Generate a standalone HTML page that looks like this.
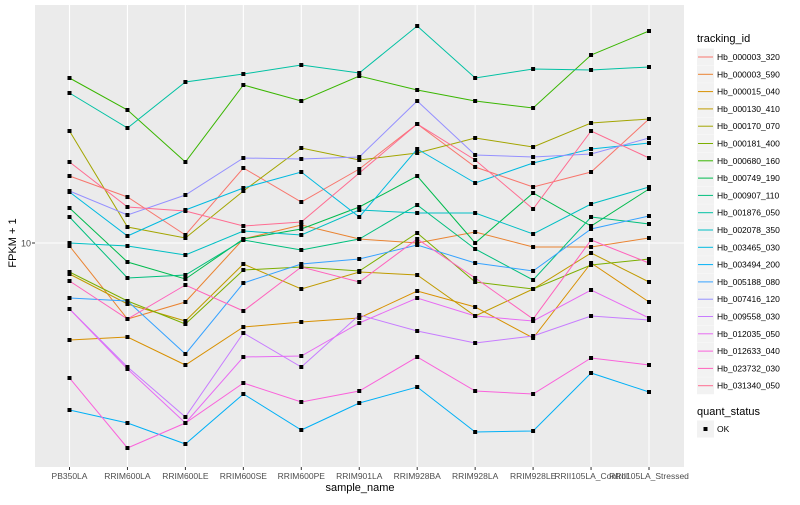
<!DOCTYPE html>
<html><head><meta charset="utf-8"><style>
body{margin:0;background:#fff;font-family:"Liberation Sans",sans-serif;}
svg text{font-family:"Liberation Sans",sans-serif;}
</style></head><body>
<svg id="chart" width="800" height="500" xmlns="http://www.w3.org/2000/svg">
<rect x="0" y="0" width="800" height="500" fill="#fff"/>
<rect x="35" y="5" width="649" height="462" fill="#ebebeb"/>
<g id="grid"></g><g id="series"></g><g id="xticks"></g><g id="legend"></g>
<text x="31" y="246.5" font-size="9" fill="#4d4d4d" text-anchor="end">10</text>
<line x1="32" y1="243" x2="35" y2="243" stroke="#333" stroke-width="1"/>
<text transform="translate(16,243) rotate(-90)" font-size="11" text-anchor="middle" fill="#000">FPKM + 1</text>
<text x="360" y="491" font-size="11" text-anchor="middle" fill="#000">sample_name</text>
</svg>
<script>
const categories=["PB350LA","RRIM600LA","RRIM600LE","RRIM600SE","RRIM600PE","RRIM901LA","RRIM928BA","RRIM928LA","RRIM928LE","RRII105LA_Control","RRII105LA_Stressed"];
const seriesIds=["Hb_000003_320","Hb_000003_590","Hb_000015_040","Hb_000130_410","Hb_000170_070","Hb_000181_400","Hb_000680_160","Hb_000749_190","Hb_000907_110","Hb_001876_050","Hb_002078_350","Hb_003465_030","Hb_003494_200","Hb_005188_080","Hb_007416_120","Hb_009558_030","Hb_012035_050","Hb_012633_040","Hb_023732_030","Hb_031340_050"];
const colors=["#F8766D","#EA8331","#D89000","#C09B00","#A3A500","#7CAE00","#39B600","#00BB4E","#00BF7D","#00C1A3","#00BFC4","#00BAE0","#00B0F6","#35A2FF","#9590FF","#C77CFF","#E76BF3","#FA62DB","#FF62BC","#FF6C91"];
// log10(FPKM + 1) per series
const s_000003_320=[1.1675,1.115,1.02,1.1875,1.1025,1.185,1.2975,1.19,1.14,1.1775,1.31];
const s_000003_590=[0.9925,0.81,0.8525,1.01,1.045,1.01,1.0,1.0275,0.99,0.99,1.0125];
const s_000015_040=[0.7575,0.765,0.695,0.79,0.8025,0.8125,0.88,0.84,0.7625,0.95,0.8525];
const s_000130_410=[0.9225,0.8475,0.805,0.9475,0.885,0.9275,0.92,0.8175,0.885,0.975,0.9025];
const s_000170_070=[1.28,1.04,1.0125,1.13,1.2375,1.2075,1.225,1.2625,1.24,1.3,1.31];
const s_000181_400=[0.9275,0.855,0.7975,0.9325,0.94,0.93,1.025,0.9025,0.885,0.945,0.96];
const s_000680_160=[1.4125,1.3325,1.2025,1.395,1.355,1.4175,1.3825,1.355,1.3375,1.47,1.53];
const s_000749_190=[1.0875,0.9525,0.91,1.01,1.035,1.09,1.1675,1.0,1.125,1.0425,1.135];
const s_000907_110=[1.065,0.9125,0.92,1.0075,0.9825,1.01,1.095,0.985,0.9075,1.065,1.0475];
const s_001876_050=[1.375,1.2875,1.4025,1.4225,1.445,1.425,1.5425,1.4125,1.435,1.4325,1.44];
const s_002078_350=[1.0,0.9925,0.97,1.03,1.02,1.0825,1.075,1.075,1.0225,1.0975,1.14];
const s_003465_030=[1.1275,1.0175,1.0825,1.1375,1.1775,1.065,1.235,1.15,1.2,1.235,1.25];
const s_003494_200=[0.5825,0.55,0.4975,0.6225,0.5325,0.6,0.64,0.5275,0.53,0.675,0.6275];
const s_005188_080=[0.8625,0.855,0.7225,0.9,0.9475,0.96,0.995,0.95,0.93,1.035,1.0675];
const s_007416_120=[1.13,1.07,1.12,1.2125,1.21,1.215,1.355,1.22,1.215,1.2225,1.2625];
const s_009558_030=[0.835,0.69,0.565,0.775,0.69,0.82,0.78,0.75,0.7675,0.8175,0.8075];
const s_012035_050=[0.835,0.685,0.55,0.715,0.7175,0.8,0.8625,0.8175,0.805,0.8825,0.8125];
const s_012633_040=[0.6625,0.4875,0.55,0.65,0.6025,0.63,0.715,0.63,0.6225,0.7125,0.695];
const s_023732_030=[0.905,0.81,0.895,0.83,0.94,0.9025,1.01,0.9125,0.81,1.0075,0.95];
const s_031340_050=[1.2025,1.09,1.08,1.0425,1.0525,1.175,1.2975,1.2075,1.085,1.28,1.2125];
const seriesValues=[s_000003_320,s_000003_590,s_000015_040,s_000130_410,s_000170_070,s_000181_400,s_000680_160,s_000749_190,s_000907_110,s_001876_050,s_002078_350,s_003465_030,s_003494_200,s_005188_080,s_007416_120,s_009558_030,s_012035_050,s_012633_040,s_023732_030,s_031340_050];
const yTickValues=[1];
const yTickLabels=["10"];

const NS="http://www.w3.org/2000/svg";
function mk(tag,attrs,parent){const e=document.createElementNS(NS,tag);for(const k in attrs)e.setAttribute(k,attrs[k]);parent.appendChild(e);return e;}
function xScale(i){return 69.5+i*57.95;}
function yScale(v){return 243-400*(v-1);}

const grid=document.getElementById('grid');
categories.forEach((c,i)=>{
  const l=mk('line',{x1:xScale(i),x2:xScale(i),y1:5,y2:467,stroke:'#fff','stroke-width':1.1},grid);
  
  
});
yTickValues.forEach(v=>{
  const l=mk('line',{x1:35,x2:684,y1:yScale(v),y2:yScale(v),stroke:'#fff','stroke-width':1.1},grid);
  
  
});

const sg=document.getElementById('series');
seriesValues.forEach((vals,si)=>{
  const pts=vals.map((v,i)=>xScale(i).toFixed(1)+','+yScale(v).toFixed(1)).join(' ');
  const pl=mk('polyline',{points:pts,fill:'none',stroke:colors[si],'stroke-width':1},sg);
  
  
});
seriesValues.forEach((vals,si)=>{
  vals.forEach((v,i)=>{
    const r=mk('rect',{x:xScale(i)-2,y:yScale(v)-2,width:4,height:4,fill:'#000'},sg);
    
    
  });
});

const xt=document.getElementById('xticks');
categories.forEach((c,i)=>{
  mk('line',{x1:xScale(i),x2:xScale(i),y1:467,y2:470,stroke:'#333'},xt);
  const t=mk('text',{x:xScale(i),y:479,'font-size':8.5,'text-anchor':'middle',fill:'#4d4d4d'},xt);
  t.textContent=c;
  
  
});

const lg=document.getElementById('legend');
const lt=mk('text',{x:697,y:42,'font-size':11,fill:'#000'},lg);
lt.textContent='tracking_id';


seriesIds.forEach((id,si)=>{
  const y=57+si*17.3;
  mk('rect',{x:697,y:y-8.5,width:17,height:17,fill:'#f2f2f2'},lg);
  mk('line',{x1:698,x2:713,y1:y,y2:y,stroke:colors[si],'stroke-width':1},lg);
  const t=mk('text',{x:717,y:y+3,'font-size':8.5,fill:'#000'},lg);
  t.textContent=id;
  
  
});
const qt=mk('text',{x:697,y:415,'font-size':11,fill:'#000'},lg);
qt.textContent='quant_status';


mk('rect',{x:697,y:420.5,width:17,height:17,fill:'#f2f2f2'},lg);
mk('rect',{x:703.5,y:427,width:4,height:4,fill:'#000'},lg);
const ok=mk('text',{x:717,y:432,'font-size':8.5,fill:'#000'},lg);
ok.textContent='OK';


</script>
</body></html>
